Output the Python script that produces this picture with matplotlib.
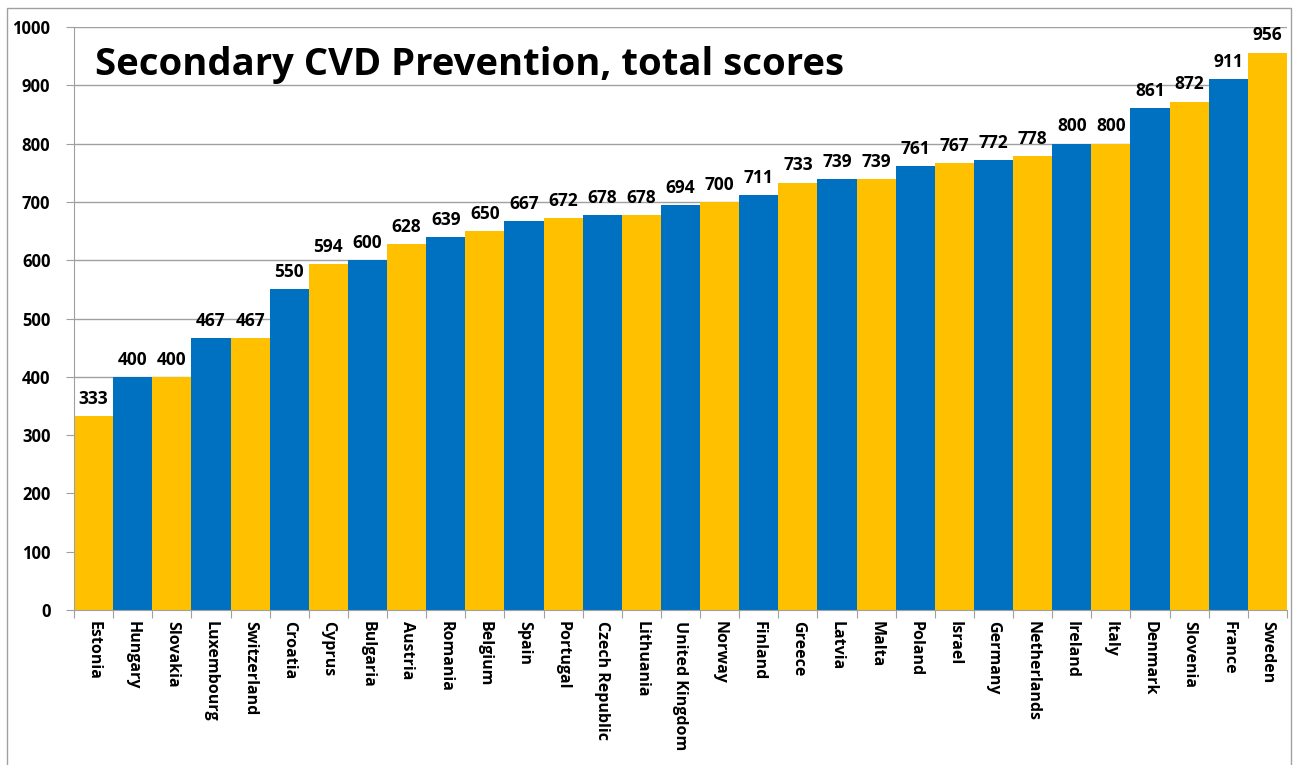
import matplotlib.pyplot as plt
from matplotlib.patches import Rectangle

countries = ["Estonia", "Hungary", "Slovakia", "Luxembourg", "Switzerland", "Croatia",
             "Cyprus", "Bulgaria", "Austria", "Romania", "Belgium", "Spain", "Portugal",
             "Czech Republic", "Lithuania", "United Kingdom", "Norway", "Finland", "Greece",
             "Latvia", "Malta", "Poland", "Israel", "Germany", "Netherlands", "Ireland",
             "Italy", "Denmark", "Slovenia", "France", "Sweden"]
scores = [333, 400, 400, 467, 467, 550, 594, 600, 628, 639, 650, 667, 672, 678, 678,
          694, 700, 711, 733, 739, 739, 761, 767, 772, 778, 800, 800, 861, 872, 911, 956]

plt.rcParams['font.family'] = ['Open Sans', 'DejaVu Sans']

W, H = 1301, 765
fig = plt.figure(figsize=(W / 100, H / 100), dpi=100)
ax = fig.add_axes([74 / W, 1 - 610 / H, (1287 - 74) / W, (610 - 27) / H])

colors = ["#FFC000" if i % 2 == 0 else "#0070C0" for i in range(len(scores))]
x = list(range(len(scores)))
ax.bar(x, scores, width=1.0, color=colors, zorder=2)

for xi, v in zip(x, scores):
    ax.text(xi, v + 14, str(v), ha="center", va="bottom", fontsize=12.5,
            fontweight="bold", zorder=3)

ax.set_xlim(-0.5, len(scores) - 0.5)
ax.set_ylim(0, 1000)
ax.set_yticks(range(0, 1001, 100))
ax.yaxis.grid(True, color="#A0A0A0", linewidth=1, zorder=0)
ax.set_xticks([i - 0.5 for i in range(len(scores) + 1)], minor=False)
ax.set_xticklabels([])
ax.set_xticks(x, minor=True)
ax.set_xticklabels(countries, minor=True, rotation=-90, fontsize=11.5,
                   fontweight="bold", va="top", ha="center")
ax.tick_params(axis="x", which="minor", length=0, pad=8)
ax.tick_params(axis="x", which="major", length=6, color="#A0A0A0", direction="out")
ax.tick_params(axis="y", length=6, color="#A0A0A0", labelsize=12, pad=11)
for lbl in ax.get_yticklabels():
    lbl.set_fontweight("bold")

for s in ["top", "right"]:
    ax.spines[s].set_visible(False)
ax.spines["left"].set_color("#A0A0A0")
ax.spines["bottom"].set_color("#A0A0A0")

ax.text(0.017, 0.935, "Secondary CVD Prevention, total scores", transform=ax.transAxes,
        fontsize=27.5, fontweight="bold", ha="left", va="center", zorder=4)

fig.patches.append(Rectangle((7 / W, -0.01), (1291 - 7) / W, 1 - 8 / H + 0.01,
                             transform=fig.transFigure, fill=False,
                             edgecolor="#A0A0A0", linewidth=1))

fig.savefig("out.png", dpi=100)
